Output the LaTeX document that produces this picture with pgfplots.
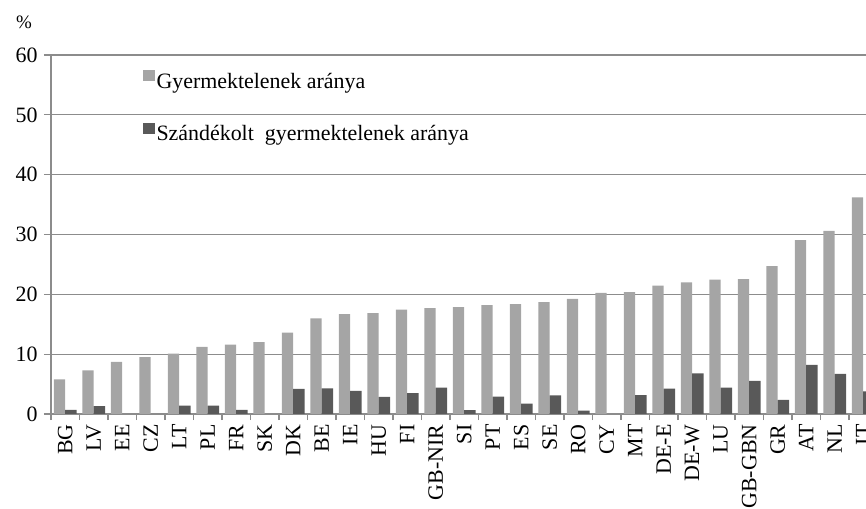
\documentclass[border=0pt]{standalone}
\usepackage{pgfplots}
\pgfplotsset{compat=1.18}
\usepackage{fontspec}
\setmainfont{Liberation Serif}
\definecolor{barA}{HTML}{A5A5A5}
\definecolor{barB}{HTML}{595959}
\definecolor{gridc}{HTML}{8C8C8C}
\newcommand\TLfont{\fontsize{22}{26}\selectfont}
\begin{document}
\begin{tikzpicture}
\begin{axis}[
  at={(51bp,95bp)}, anchor=south west, scale only axis,
  width=815bp, height=359bp,
  xmin=-0.5, xmax=28.1, ymin=0, ymax=60,
  ybar, bar width=0.4,
  axis lines*=left,
  axis line style={gridc, line width=1.3bp},
  ytick={0,10,20,30,40,50,60}, ymajorgrids,
  yticklabels={0,10,20,30,40,50,60},
  major grid style={gridc, line width=1.3bp},
  xtick={0,...,28},
  xticklabels={BG,LV,EE,CZ,LT,PL,FR,SK,DK,BE,IE,HU,FI,GB-NIR,SI,PT,ES,SE,RO,CY,MT,DE-E,DE-W,LU,GB-GBN,GR,AT,NL,IT},
  major x tick style={draw=none},
  minor xtick={-0.5,0.5,...,27.5},
  minor x tick style={gridc, line width=1.3bp},
  minor tick length=6bp,
  major tick length=7bp, tick align=outside,
  y tick style={gridc, line width=1.3bp},
  every tick label/.append style={font=\TLfont},
  every y tick label/.append style={xshift=-3bp},
  xticklabel style={rotate=90, anchor=east},
  legend style={at={(0.109,0.965)}, anchor=north west, draw=none, fill=none,
    font=\fontsize{22}{26}\selectfont, row sep=31bp},
  legend cell align=left,
  legend image code/.code={\fill[#1,draw=none] (0bp,0bp) rectangle (11.5bp,11.5bp);},
]
\addplot[fill=barA, draw=none, bar shift=-0.2] coordinates {
(0,5.8) (1,7.3) (2,8.7) (3,9.5) (4,10.1) (5,11.2) (6,11.6) (7,12.0) (8,13.6) (9,16.0)
(10,16.7) (11,16.85) (12,17.45) (13,17.7) (14,17.85) (15,18.2) (16,18.35) (17,18.7) (18,19.25) (19,20.25)
(20,20.35) (21,21.45) (22,22.0) (23,22.45) (24,22.55) (25,24.7) (26,29.05) (27,30.6) (28,36.2)};
\addplot[fill=barB, draw=none, bar shift=0.2] coordinates {
(0,0.7) (1,1.3) (2,0) (3,0) (4,1.4) (5,1.4) (6,0.7) (7,0) (8,4.2) (9,4.3)
(10,3.85) (11,2.85) (12,3.5) (13,4.4) (14,0.65) (15,2.9) (16,1.75) (17,3.1) (18,0.55) (19,0)
(20,3.15) (21,4.25) (22,6.8) (23,4.4) (24,5.55) (25,2.35) (26,8.2) (27,6.7) (28,3.8)};
\legend{Gyermektelenek aránya,Szándékolt\ \ gyermektelenek aránya}
\end{axis}
\node[anchor=base west, inner sep=0pt, font=\fontsize{19}{22}\selectfont] at (16bp,480bp) {\%};
\pgfresetboundingbox
\useasboundingbox (0,0) rectangle (866bp,509bp);
\end{tikzpicture}
\end{document}
